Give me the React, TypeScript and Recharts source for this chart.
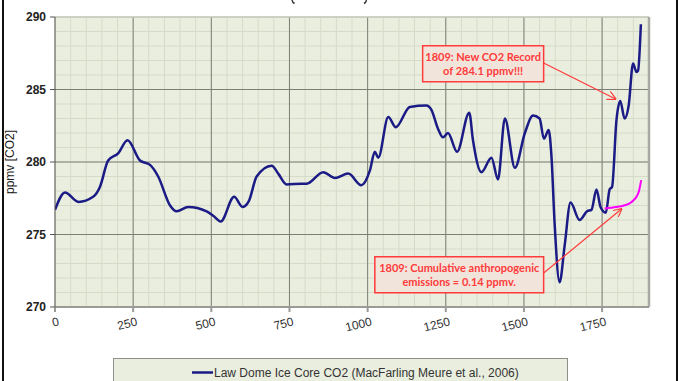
import React from "react";
import {
  CartesianGrid,
  Line,
  LineChart,
  ReferenceArea,
  ReferenceLine,
  XAxis,
  YAxis,
} from "recharts";

// Law Dome CO2 (ppmv)
const years = [
  0, 32, 75, 122, 144, 170, 202, 232, 272, 304, 330, 368, 389, 426, 485, 506,
  530, 573, 600, 620, 645, 693, 714, 741, 789, 805, 858, 895, 938, 980, 1007,
  1023, 1034, 1066, 1090, 1135, 1188, 1204, 1225, 1241, 1257, 1286, 1325, 1337,
  1364, 1396, 1417, 1439, 1471, 1503, 1529, 1550, 1564, 1579, 1588, 1598, 1614,
  1630, 1649, 1678, 1702, 1716, 1732, 1745, 1762, 1774, 1782, 1796, 1808, 1822,
  1835, 1849, 1860, 1865, 1874,
];
const co2 = [
  276.7, 277.9, 277.25, 277.6, 278.3, 280.1, 280.6, 281.5, 280.1, 279.8, 279.0,
  277.0, 276.6, 276.9, 276.6, 276.3, 275.9, 277.6, 276.9, 277.3, 279.0, 279.75,
  279.2, 278.45, 278.5, 278.5, 279.3, 278.9, 279.2, 278.4, 279.4, 280.7, 280.3,
  283.1, 282.4, 283.8, 283.9, 283.6, 282.3, 281.7, 282.0, 280.7, 283.4, 281.5,
  279.3, 280.3, 278.8, 283.0, 279.6, 282.0, 283.2, 283.0, 281.6, 282.2, 280.4,
  275.8, 271.7, 274.2, 277.2, 276.0, 276.6, 276.7, 278.1, 276.9, 276.5, 278.1,
  278.3, 282.9, 284.2, 283.0, 283.9, 286.8, 286.2, 286.3, 289.5,
];

// cumulative anthropogenic emissions added on top of the 1758 level
const anthroYears = [1758, 1796, 1810, 1838, 1850, 1860, 1868, 1875];
const anthroCo2 = [276.8, 276.9, 276.95, 277.15, 277.35, 277.6, 278.0, 278.75];

const xTicks = [0, 250, 500, 750, 1000, 1250, 1500, 1750];
const yTicks = [270, 275, 280, 285, 290];
const xMinor = Array.from({ length: 38 }, (_, i) => i * 50);
const yMinor = Array.from({ length: 21 }, (_, i) => 270 + i);

const lawDome = years.map((y, i) => ({ year: y, co2: co2[i] }));
const anthro = anthroYears.map((y, i) => ({ year: y, co2: anthroCo2[i] }));

const RED = "#ff3b3b";
const BOX_FILL = "#f1e4da";

const scaleOf = (axis: any, v: number) => {
  const s = axis?.scale;
  if (typeof s === "function") return s(v);
  if (s && typeof s.map === "function") return s.map(v);
  return v;
};

const boxLabel = (lines: string[]) => (props: any) => {
  const { x, y, width, height } = props.viewBox;
  const cx = x + width / 2;
  const cy = y + height / 2;
  return (
    <text
      x={cx}
      y={cy}
      textAnchor="middle"
      fill={RED}
      fontFamily="Lato, 'Open Sans', sans-serif"
      fontWeight="bold"
      fontSize={11}
    >
      {lines.map((l, i) => (
        <tspan key={i} x={cx} dy={i === 0 ? -2.5 : 14}>
          {l}
        </tspan>
      ))}
    </text>
  );
};

const arrowShape = (props: any) => {
  const { x1, y1, x2, y2 } = props;
  return (
    <line
      x1={x1}
      y1={y1}
      x2={x2}
      y2={y2}
      stroke={RED}
      strokeWidth={1.2}
      markerEnd="url(#arrowHead)"
    />
  );
};

const XTick = (props: any) => {
  const { x, y, payload } = props;
  return (
    <text
      x={x}
      y={y}
      transform={`rotate(-14 ${x} ${y})`}
      textAnchor="end"
      dy={12}
      dx={2}
      fill="#333"
      fontSize={12}
      fontFamily="'Liberation Sans', Arial, sans-serif"
    >
      {payload.value}
    </text>
  );
};

export default function App() {
  return (
    <div
      style={{
        position: "absolute",
        left: 0,
        top: 0,
        width: 678,
        height: 381,
        background: "#fff",
        overflow: "hidden",
        fontFamily: "'Liberation Sans', Arial, sans-serif",
      }}
    >
      {/* frame of the original image */}
      <div style={{ position: "absolute", left: 2, top: 0, width: 2, height: 381, background: "#111" }} />
      <div style={{ position: "absolute", left: 676, top: 0, width: 2, height: 381, background: "#111" }} />
      {/* bottoms of the title's brackets, the rest is cropped away */}
      <svg width={678} height={6} style={{ position: "absolute", left: 0, top: 0 }}>
        <path d="M292,0 Q292.5,2.5 294.5,3.5" fill="none" stroke="#333" strokeWidth={1.4} />
        <path d="M366.5,0 Q366,2.5 364,3.5" fill="none" stroke="#333" strokeWidth={1.4} />
      </svg>

      <LineChart
        width={678}
        height={381}
        data={lawDome}
        margin={{ top: 17, right: 29, left: 0, bottom: 44 }}
        style={{ position: "absolute", left: 0, top: 0 }}
      >
        <defs>
          <marker
            id="arrowHead"
            viewBox="0 0 10 10"
            refX="9"
            refY="5"
            markerWidth="9"
            markerHeight="9"
            orient="auto"
            markerUnits="userSpaceOnUse"
          >
            <path d="M0,0 L10,5 L0,10" fill="none" stroke={RED} strokeWidth={1.3} />
          </marker>
        </defs>
        {/* minor grid + plot background */}
        <CartesianGrid
          fill="#eaeedf"
          stroke="#d6dbc8"
          strokeWidth={1}
          verticalCoordinatesGenerator={({ xAxis }: any) =>
            xMinor.map((v) => scaleOf(xAxis, v))
          }
          horizontalCoordinatesGenerator={({ yAxis }: any) =>
            yMinor.map((v) => scaleOf(yAxis, v))
          }
        />
        {/* major grid */}
        <CartesianGrid
          stroke="#7d7f77"
          strokeWidth={1}
          verticalCoordinatesGenerator={({ xAxis }: any) =>
            xTicks.slice(1).map((v) => scaleOf(xAxis, v))
          }
          horizontalCoordinatesGenerator={({ yAxis }: any) =>
            [275, 280, 285].map((v) => scaleOf(yAxis, v))
          }
        />
        <ReferenceLine y={290} stroke="#c4c7bd" strokeWidth={1.5} />
        <ReferenceLine x={1900} stroke="#a9aaa4" strokeWidth={2.5} />
        <XAxis
          dataKey="year"
          type="number"
          domain={[0, 1900]}
          ticks={xTicks}
          interval={0}
          height={30}
          stroke="#9a9b95"
          strokeWidth={2}
          tickSize={5}
          tick={<XTick />}
          allowDataOverflow
        />
        <YAxis
          type="number"
          domain={[270, 290]}
          ticks={yTicks}
          interval={0}
          width={55}
          stroke="#555"
          tickSize={5}
          tickMargin={4}
          tick={{ fill: "#222", fontSize: 12, fontWeight: "bold" }}
          label={{
            content: (p: any) => {
              const vb = p.viewBox;
              const cy = vb.y + vb.height / 2;
              return (
                <text
                  x={14}
                  y={cy}
                  transform={`rotate(-90 14 ${cy})`}
                  textAnchor="middle"
                  fill="#222"
                  fontSize={12}
                >
                  ppmv [CO2]
                </text>
              );
            },
          }}
        />
        <ReferenceArea
          x1={1176}
          x2={1563}
          y1={285.54}
          y2={288.02}
          fill={BOX_FILL}
          fillOpacity={1}
          stroke={RED}
          strokeWidth={1.5}
          label={{ content: boxLabel(["1809: New CO2 Record", "of 284.1 ppmv!!!"]) }}
        />
        <ReferenceArea
          x1={1023}
          x2={1563}
          y1={270.99}
          y2={273.47}
          fill={BOX_FILL}
          fillOpacity={1}
          stroke={RED}
          strokeWidth={1.5}
          label={{
            content: boxLabel(["1809: Cumulative anthropogenic", "emissions = 0.14 ppmv."]),
          }}
        />
        <Line
          dataKey="co2"
          type="monotone"
          stroke="#1b1b86"
          strokeWidth={2.5}
          dot={false}
          isAnimationActive={false}
        />
        <Line
          data={anthro}
          dataKey="co2"
          type="monotone"
          stroke="#ff00ff"
          strokeWidth={2}
          dot={false}
          isAnimationActive={false}
        />
        <ReferenceLine
          segment={[
            { x: 1563, y: 286.83 },
            { x: 1793, y: 284.34 },
          ]}
          shape={arrowShape}
        />
        <ReferenceLine
          segment={[
            { x: 1563, y: 272.34 },
            { x: 1812, y: 276.76 },
          ]}
          shape={arrowShape}
        />
      </LineChart>

      {/* legend box */}
      <div
        style={{
          position: "absolute",
          left: 113,
          top: 358,
          width: 455,
          height: 40,
          background: "#eaeedf",
          border: "1px solid #8e8f88",
          boxSizing: "border-box",
        }}
      >
        <svg width={455} height={30} style={{ position: "absolute", left: 0, top: 0 }}>
          <line x1={78} y1={13.5} x2={99} y2={13.5} stroke="#1b1b86" strokeWidth={2.5} />
          <text x={100} y={18} fontSize={12} fill="#333">
            Law Dome Ice Core CO2 (MacFarling Meure et al., 2006)
          </text>
        </svg>
      </div>
    </div>
  );
}
